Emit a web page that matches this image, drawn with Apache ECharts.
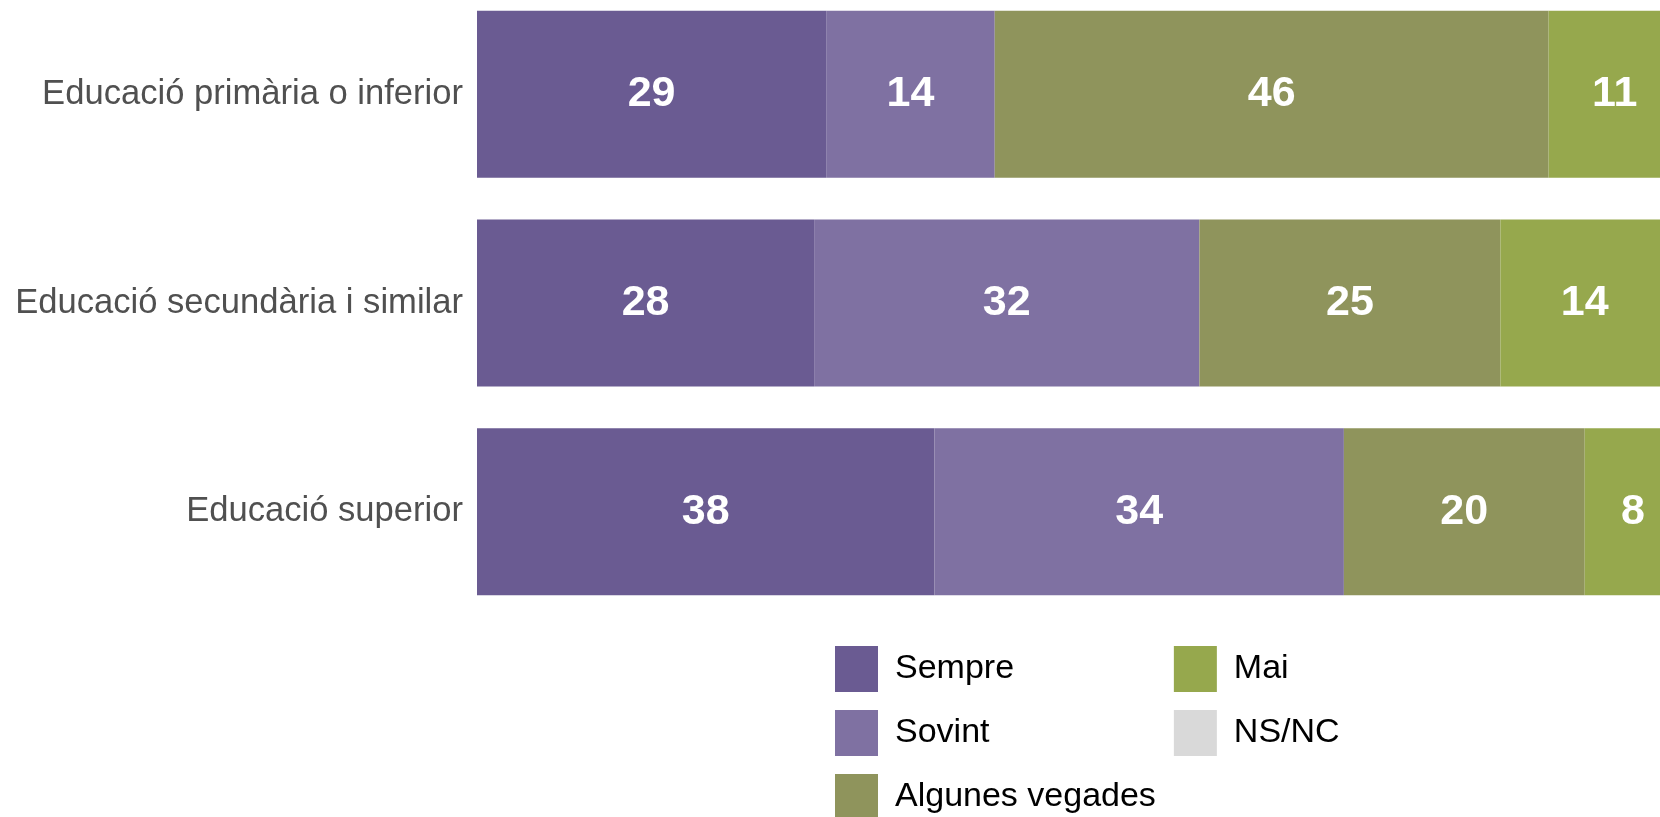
<!DOCTYPE html>
<html>
<head>
<meta charset="utf-8">
<script src="https://cdn.jsdelivr.net/npm/echarts@6/dist/echarts.min.js"></script>
<style>
html,body{margin:0;padding:0;background:#fff;}
#chart{width:1660px;height:817px;}
</style>
</head>
<body>
<div id="chart"></div>
<script>
const categories = ['Educació primària o inferior', 'Educació secundària i similar', 'Educació superior'];
const seriesNames = ['Sempre', 'Sovint', 'Algunes vegades', 'Mai', 'NS/NC'];
const sempre = [29, 28, 38];
const sovint = [14, 32, 34];
const algunes = [46, 25, 20];
const mai = [11, 14, 8];
const nsnc = [0, 1, 0];
const colors = ['#6a5b92', '#7f71a2', '#8f945c', '#96a84d', '#d9d9d9'];

const values = [sempre, sovint, algunes, mai, nsnc];
const chart = echarts.init(document.getElementById('chart'));
const FONT = '"Liberation Sans", Arial, sans-serif';

const option = {
  animation: false,
  backgroundColor: '#ffffff',
  grid: { left: 477, top: -10, width: 1204, height: 626, containLabel: false, outerBoundsMode: 'none' },
  xAxis: { type: 'value', min: 0, max: 100, show: false },
  yAxis: {
    type: 'category',
    data: categories,
    inverse: true,
    axisLine: { show: false },
    axisTick: { show: false },
    splitLine: { show: false },
    axisLabel: { fontSize: 34.6, color: '#505050', fontFamily: FONT, margin: 14 }
  },
  legend: {
    orient: 'vertical',
    left: 835,
    top: 646,
    height: 180,
    width: 700,
    padding: 0,
    itemGap: 18,
    itemWidth: 43,
    itemHeight: 46,
    icon: 'rect',
    data: seriesNames,
    textStyle: { fontSize: 34, color: '#000', fontFamily: FONT, padding: [0, 0, 0, 12] }
  },
  series: seriesNames.map((name, i) => ({
    name: name,
    type: 'bar',
    stack: 'total',
    data: values[i],
    barCategoryGap: '20%',
    itemStyle: { color: colors[i] },
    label: {
      show: true,
      position: 'inside',
      color: '#fff',
      fontSize: 43,
      fontWeight: 'bold',
      fontFamily: FONT,
      formatter: p => (p.value ? String(p.value) : '')
    }
  }))
};
chart.setOption(option);
</script>
</body>
</html>
